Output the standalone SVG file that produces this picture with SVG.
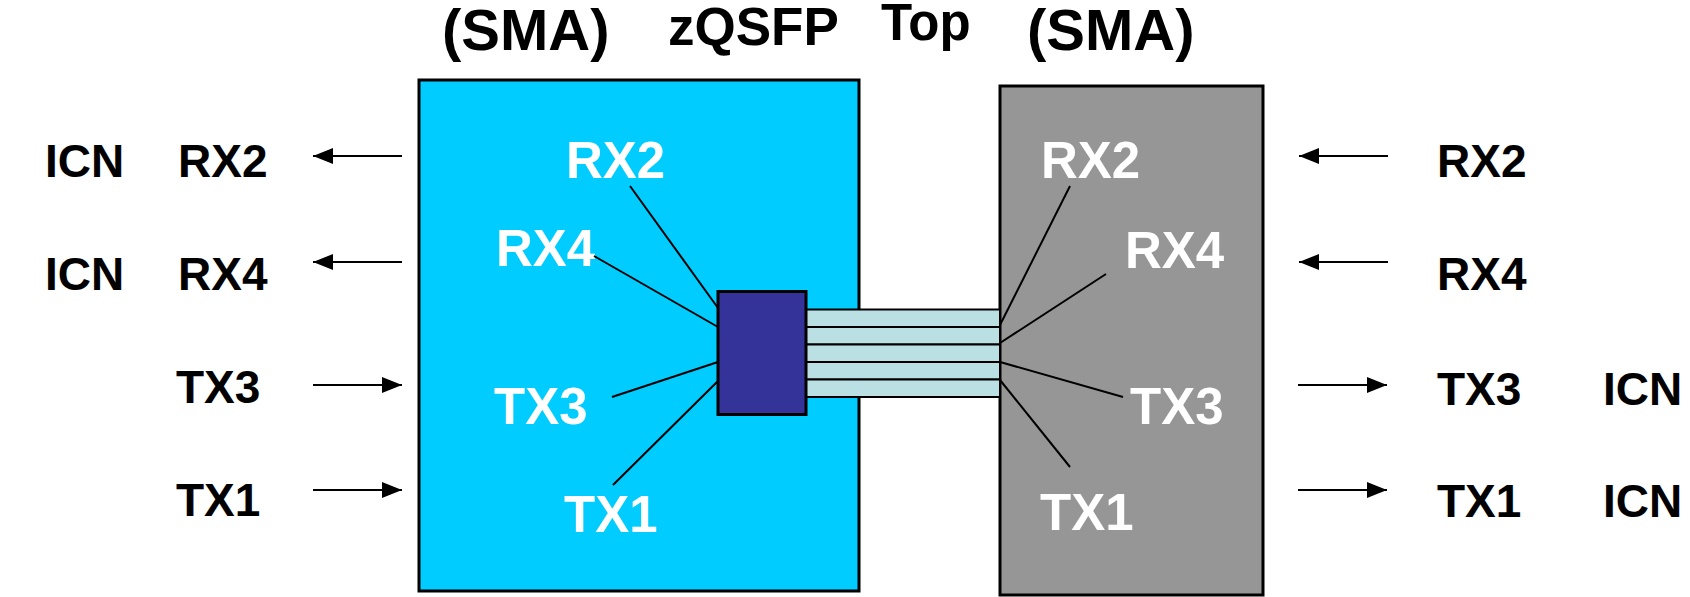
<svg xmlns="http://www.w3.org/2000/svg" width="1690" height="597" viewBox="0 0 1690 597">
<style>
.lbl{font-family:"Liberation Sans",Arial,sans-serif;font-weight:bold;fill:#000;font-size:46px}
.wl{font-family:"Liberation Sans",Arial,sans-serif;font-weight:bold;fill:#fff;font-size:51px}
.ttl{font-family:"Liberation Sans",Arial,sans-serif;font-weight:bold;fill:#000}
.ln{stroke:#000;stroke-width:2;fill:none}
.arr{stroke:#000;stroke-width:2;fill:none;marker-end:url(#ah)}
.strip{fill:#BBE0E3;stroke:#000;stroke-width:2}
</style>
<defs>
<marker id="ah" markerUnits="userSpaceOnUse" markerWidth="22" markerHeight="18" refX="20" refY="8" orient="auto">
<path d="M0,0 L20,8 L0,16 Z" fill="#000"/>
</marker>
</defs>
<rect width="1690" height="597" fill="#fff"/>
<g id="titles">
<text class="ttl" x="442" y="50" font-size="58">(SMA)</text>
<text class="ttl" x="668" y="45" font-size="53">zQSFP</text>
<text class="ttl" x="881" y="40" font-size="51">Top</text>
<text class="ttl" x="1027" y="50" font-size="58">(SMA)</text>
</g>
<g id="left-sma">
<rect x="419" y="80" width="440" height="511" fill="#00CCFF" stroke="#000" stroke-width="3"/>
<text class="wl" x="566" y="178">RX2</text>
<text class="wl" x="496" y="266">RX4</text>
<text class="wl" x="494" y="424">TX3</text>
<text class="wl" x="564" y="532">TX1</text>
</g>
<g id="right-sma">
<rect x="1000" y="86" width="263" height="509" fill="#969696" stroke="#000" stroke-width="3"/>
<text class="wl" x="1041" y="178">RX2</text>
<text class="wl" x="1125" y="268">RX4</text>
<text class="wl" x="1130" y="424">TX3</text>
<text class="wl" x="1040" y="530">TX1</text>
</g>
<g id="cable">
<rect class="strip" x="806" y="309.5" width="194" height="17.5"/>
<rect class="strip" x="806" y="327" width="194" height="17.5"/>
<rect class="strip" x="806" y="344.5" width="194" height="17.5"/>
<rect class="strip" x="806" y="362" width="194" height="17.5"/>
<rect class="strip" x="806" y="379.5" width="194" height="17.5"/>
</g>
<g id="chip">
<rect x="718" y="291.5" width="88" height="123" fill="#333399" stroke="#000" stroke-width="3"/>
</g>
<g id="connectors">
<line class="ln" x1="630" y1="186" x2="718" y2="308"/>
<line class="ln" x1="594" y1="256" x2="718" y2="327"/>
<line class="ln" x1="612" y1="397" x2="718" y2="362"/>
<line class="ln" x1="613" y1="485" x2="718" y2="381"/>
<line class="ln" x1="1070" y1="186" x2="1000" y2="325"/>
<line class="ln" x1="1106" y1="274" x2="1000" y2="343"/>
<line class="ln" x1="1000" y1="362" x2="1123" y2="397"/>
<line class="ln" x1="1000" y1="380" x2="1070" y2="467"/>
<line class="arr" x1="402" y1="156" x2="313" y2="156"/>
<line class="arr" x1="402" y1="262" x2="313" y2="262"/>
<line class="arr" x1="313" y1="385" x2="402" y2="385"/>
<line class="arr" x1="313" y1="490" x2="402" y2="490"/>
<line class="arr" x1="1388" y1="156" x2="1299" y2="156"/>
<line class="arr" x1="1388" y1="262" x2="1299" y2="262"/>
<line class="arr" x1="1298" y1="385" x2="1387" y2="385"/>
<line class="arr" x1="1298" y1="490" x2="1387" y2="490"/>
</g>
<g id="labels">
<text class="lbl" x="45" y="177">ICN</text>
<text class="lbl" x="178" y="177">RX2</text>
<text class="lbl" x="45" y="290">ICN</text>
<text class="lbl" x="178" y="290">RX4</text>
<text class="lbl" x="176" y="403">TX3</text>
<text class="lbl" x="176" y="516">TX1</text>
<text class="lbl" x="1437" y="177">RX2</text>
<text class="lbl" x="1437" y="290">RX4</text>
<text class="lbl" x="1437" y="405">TX3</text>
<text class="lbl" x="1603" y="405">ICN</text>
<text class="lbl" x="1437" y="517">TX1</text>
<text class="lbl" x="1603" y="517">ICN</text>
</g>
</svg>
